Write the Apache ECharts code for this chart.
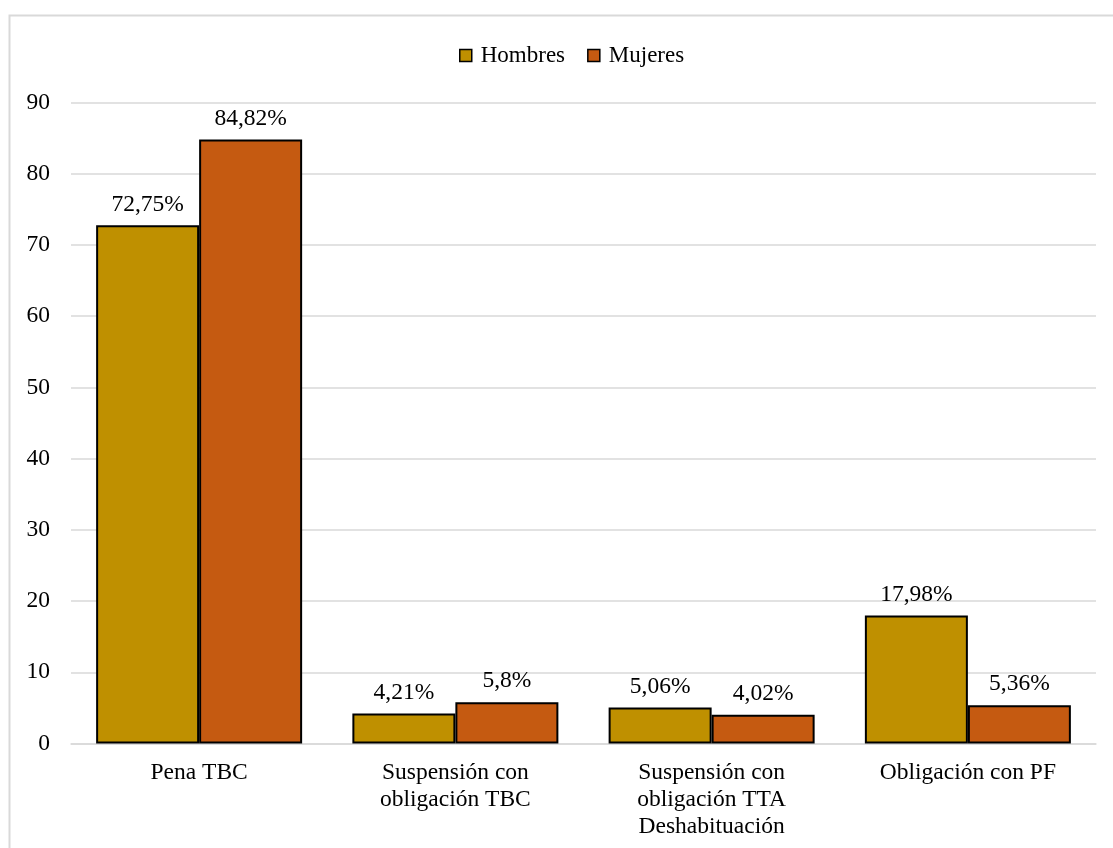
<!DOCTYPE html>
<html>
<head>
<meta charset="utf-8">
<script src="https://cdn.jsdelivr.net/npm/echarts@6/dist/echarts.min.js"></script>
<style>
  html, body { margin: 0; padding: 0; background: #fff; }
  #chart { width: 1113px; height: 848px; }
</style>
</head>
<body>
<div id="chart"></div>
<script>
// Categories and percentages per sex
const categories = [
  'Pena TBC',
  'Suspensión con\nobligación TBC',
  'Suspensión con\nobligación TTA\nDeshabituación',
  'Obligación con PF'
];
const hombres = [72.75, 4.21, 5.06, 17.98];
const mujeres = [84.82, 5.8, 4.02, 5.36];
const seriesNames = ['Hombres', 'Mujeres'];

const FONT = '"Liberation Serif", "Times New Roman", serif';
const FS = 23.5;
const textColor = '#000';

function pctLabel(p) {
  return String(p.value).replace('.', ',') + '%';
}

const chart = echarts.init(document.getElementById('chart'), null, { renderer: 'canvas' });

const barStyle = (color) => ({
  color: color,
  borderColor: '#000',
  borderWidth: 2
});

const labelStyle = {
  show: true,
  position: 'top',
  distance: 9,
  formatter: pctLabel,
  fontFamily: FONT,
  fontSize: FS,
  color: textColor
};

chart.setOption({
  backgroundColor: '#fff',
  animation: false,
  textStyle: { fontFamily: FONT },
  graphic: [{
    type: 'rect',
    silent: true,
    shape: { x: 9.5, y: 15.5, width: 1300, height: 1000 },
    style: { fill: 'none', stroke: '#d9d9d9', lineWidth: 2 }
  }],
  legend: {
    top: 39,
    left: 454,
    itemWidth: 12,
    itemHeight: 12,
    itemGap: 22,
    icon: 'rect',
    data: seriesNames,
    itemStyle: { borderColor: '#000', borderWidth: 1.5 },
    textStyle: {
      fontFamily: FONT,
      fontSize: 23,
      color: textColor,
      padding: [0, 0, 0, 4]
    }
  },
  grid: {
    left: 71,
    right: 17,
    top: 102.5,
    bottom: 104.5,
    containLabel: false
  },
  xAxis: {
    type: 'category',
    data: categories,
    axisLine: { show: true, lineStyle: { color: '#d9d9d9', width: 1.5 } },
    axisTick: { show: false },
    axisLabel: {
      interval: 0,
      margin: 16,
      fontFamily: FONT,
      fontSize: FS,
      lineHeight: 27,
      color: textColor
    }
  },
  yAxis: {
    type: 'value',
    min: 0,
    max: 90,
    interval: 10,
    axisLine: { show: false },
    axisTick: { show: false },
    splitLine: { lineStyle: { color: '#d9d9d9', width: 1.5 } },
    axisLabel: {
      margin: 21,
      fontFamily: FONT,
      fontSize: FS,
      color: textColor
    }
  },
  series: [
    {
      name: seriesNames[0],
      type: 'bar',
      data: hombres,
      barWidth: 103,
      barGap: '0%',
      itemStyle: barStyle('#BF9000'),
      label: labelStyle
    },
    {
      name: seriesNames[1],
      type: 'bar',
      data: mujeres,
      barWidth: 103,
      barGap: '0%',
      itemStyle: barStyle('#C55A11'),
      label: labelStyle
    }
  ]
});
</script>
</body>
</html>
